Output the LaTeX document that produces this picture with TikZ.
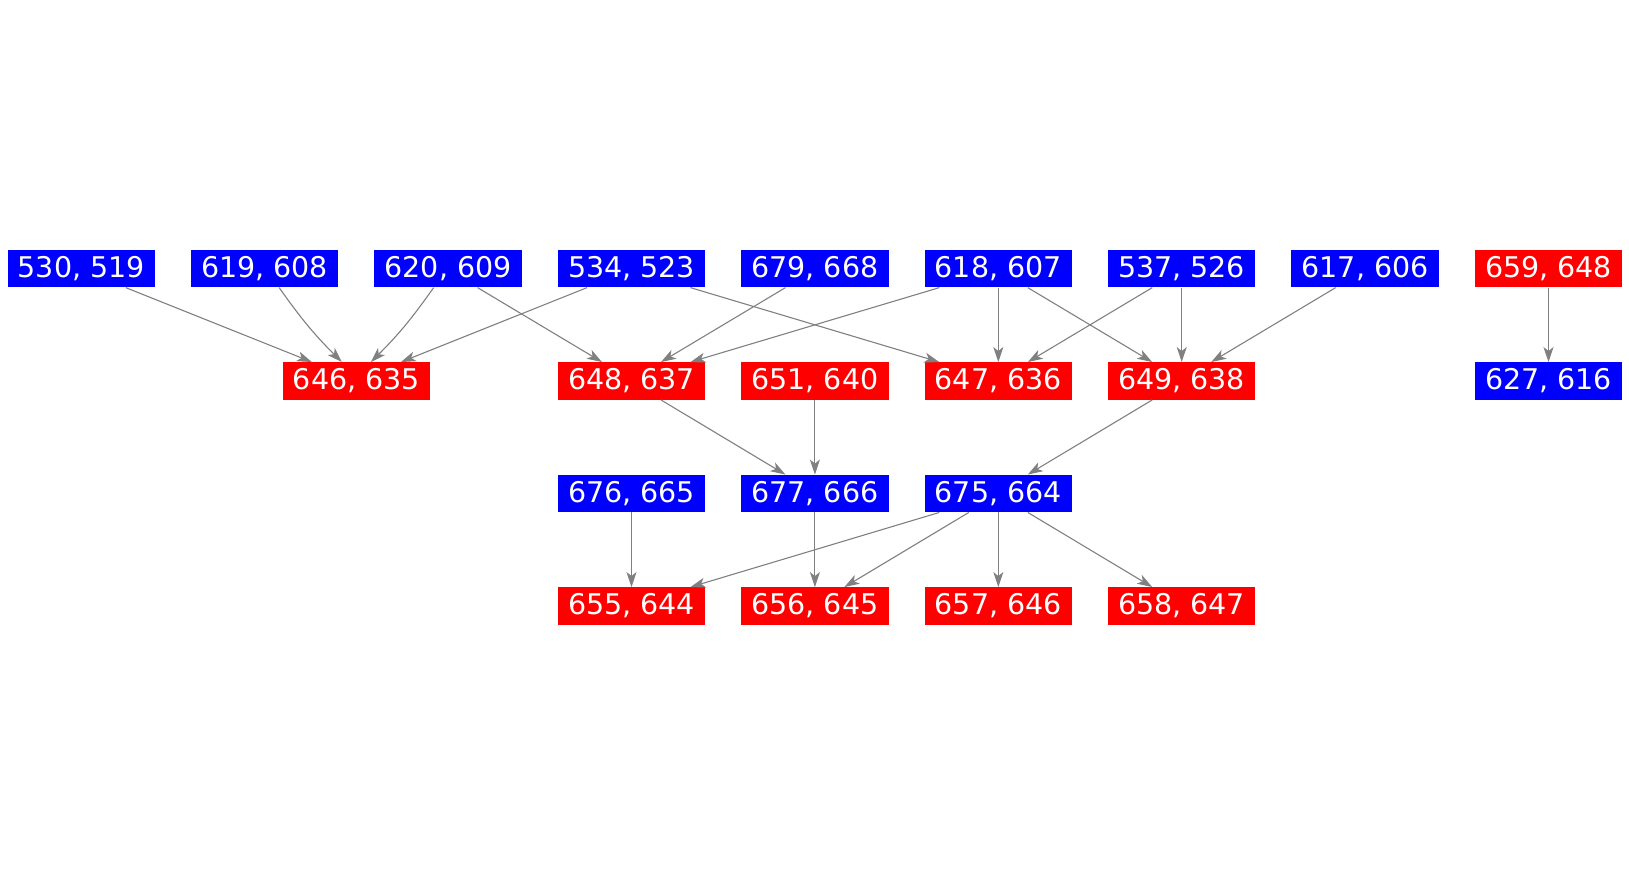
\documentclass[tikz,border=0pt]{standalone}
\usepackage{fontspec}
\setmainfont{DejaVu Sans}
\usetikzlibrary{arrows.meta}
\definecolor{nblue}{RGB}{0,0,255}
\definecolor{nred}{RGB}{255,0,0}
\definecolor{egray}{RGB}{128,128,128}
\tikzset{
 box/.style={minimum width=147.5pt, minimum height=37.5pt, inner sep=0pt, text=white, font=\fontsize{28.5}{30}\selectfont},
 bl/.style={box, fill=nblue},
 rd/.style={box, fill=nred},
 edge/.style={draw=egray, line width=1.1pt, -{Stealth[length=15pt,width=10pt,inset=4pt]}},
}
\begin{document}
\begin{tikzpicture}[x=1pt,y=-1pt]
\useasboundingbox (0,0) rectangle (1629,875);
% row 1
\node[bl] (n530) at (81.3,268.7) {530, 519};
\node[bl] (n619) at (264.7,268.7) {619, 608};
\node[bl] (n620) at (448.1,268.7) {620, 609};
\node[bl] (n534) at (631.5,268.7) {534, 523};
\node[bl] (n679) at (814.9,268.7) {679, 668};
\node[bl] (n618) at (998.3,268.7) {618, 607};
\node[bl] (n537) at (1181.7,268.7) {537, 526};
\node[bl] (n617) at (1365.1,268.7) {617, 606};
\node[rd] (n659) at (1548.5,268.7) {659, 648};
% row 2
\node[rd] (n646) at (356.4,381) {646, 635};
\node[rd] (n648) at (631.5,381) {648, 637};
\node[rd] (n651) at (814.9,381) {651, 640};
\node[rd] (n647) at (998.3,381) {647, 636};
\node[rd] (n649) at (1181.7,381) {649, 638};
\node[bl] (n627) at (1548.5,381) {627, 616};
% row 3
\node[bl] (n676) at (631.5,493.5) {676, 665};
\node[bl] (n677) at (814.9,493.5) {677, 666};
\node[bl] (n675) at (998.3,493.5) {675, 664};
% row 4
\node[rd] (n655) at (631.5,606) {655, 644};
\node[rd] (n656) at (814.9,606) {656, 645};
\node[rd] (n657) at (998.3,606) {657, 646};
\node[rd] (n658) at (1181.7,606) {658, 647};
% edges
\draw[edge] ([xshift=44.5pt]n530.south) -- ([xshift=-44.5pt]n646.north);
\draw[edge] ([xshift=14.5pt]n619.south) to[bend right=5] ([xshift=-14.5pt]n646.north);
\draw[edge] ([xshift=-14.5pt]n620.south) to[bend left=5] ([xshift=14.5pt]n646.north);
\draw[edge] ([xshift=-44.5pt]n534.south) -- ([xshift=44.5pt]n646.north);
\draw[edge] ([xshift=29.5pt]n620.south) -- ([xshift=-29.5pt]n648.north);
\draw[edge] ([xshift=59pt]n534.south) -- ([xshift=-59pt]n647.north);
\draw[edge] ([xshift=-29.5pt]n679.south) -- ([xshift=29.5pt]n648.north);
\draw[edge] ([xshift=-59pt]n618.south) -- ([xshift=59pt]n648.north);
\draw[edge] (n618.south) -- (n647.north);
\draw[edge] ([xshift=29.5pt]n618.south) -- ([xshift=-29.5pt]n649.north);
\draw[edge] ([xshift=-29.5pt]n537.south) -- ([xshift=29.5pt]n647.north);
\draw[edge] (n537.south) -- (n649.north);
\draw[edge] ([xshift=-29.5pt]n617.south) -- ([xshift=29.5pt]n649.north);
\draw[edge] (n659.south) -- (n627.north);
\draw[edge] ([xshift=29.5pt]n648.south) -- ([xshift=-29.5pt]n677.north);
\draw[edge] (n651.south) -- (n677.north);
\draw[edge] ([xshift=-29.5pt]n649.south) -- ([xshift=29.5pt]n675.north);
\draw[edge] (n676.south) -- (n655.north);
\draw[edge] (n677.south) -- (n656.north);
\draw[edge] ([xshift=-59pt]n675.south) -- ([xshift=59pt]n655.north);
\draw[edge] ([xshift=-29.5pt]n675.south) -- ([xshift=29.5pt]n656.north);
\draw[edge] (n675.south) -- (n657.north);
\draw[edge] ([xshift=29.5pt]n675.south) -- ([xshift=-29.5pt]n658.north);
\end{tikzpicture}
\end{document}
